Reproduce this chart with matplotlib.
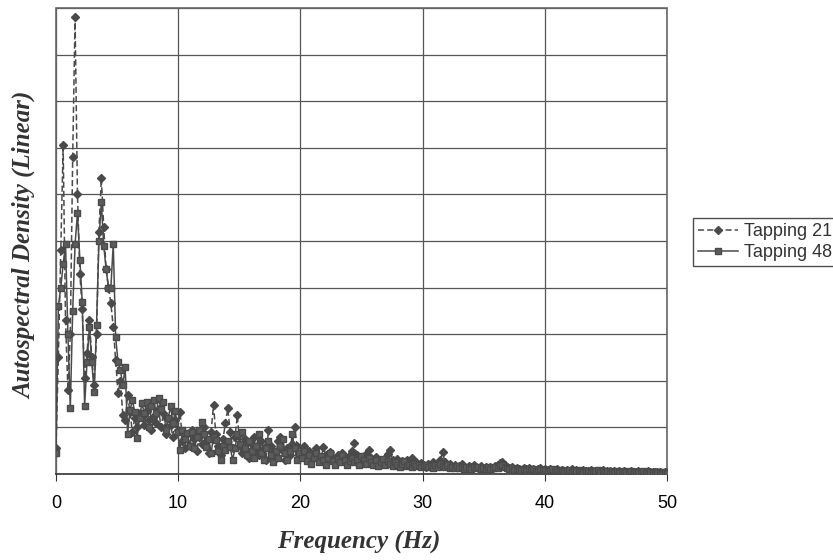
import matplotlib
matplotlib.use("Agg")
import matplotlib.pyplot as plt
import numpy as np

# spectrum bins: 512-pt FFT at 100 Hz -> 0.1953125 Hz spacing, 0..50 Hz
df = 100.0 / 512

tapping21 = [
    0.55, 2.5, 4.8, 7.05, 3.3, 1.8, 3.0, 6.8, 9.8, 6.0,          # 0
    4.3, 3.55, 2.05, 2.6, 3.3, 2.5, 1.9, 3.0, 5.2, 6.35,         # 10
    5.3, 4.4, 4.0, 3.66, 3.15, 2.44, 1.73, 2.0, 1.26, 1.16,      # 20
    1.7, 1.33, 0.9, 1.2, 1.0, 1.3, 1.23, 1.05, 1.35, 1.15,       # 30
    0.95, 1.25, 1.1, 1.4, 1.0, 1.3, 0.85, 1.2, 1.05, 0.8,        # 40
    1.15, 0.95, 1.33, 0.7, 0.55, 0.85, 0.6, 0.95, 0.75, 0.5,     # 50
    0.8, 0.65, 1.0, 0.7, 0.45, 0.9, 1.48, 0.85, 0.6, 0.4,        # 60
    0.75, 1.1, 1.41, 0.9, 0.55, 0.8, 1.26, 0.6, 0.45, 0.75,      # 70
    0.5, 0.35, 0.65, 0.8, 0.5, 0.4, 0.7, 0.55, 0.3, 0.94,        # 80
    0.6, 0.45, 0.35, 0.7, 0.8, 0.5, 0.3, 0.55, 0.4, 0.65,        # 90
    1.01, 0.6, 0.4, 0.45, 0.6, 0.38, 0.5, 0.3, 0.42, 0.55,       # 100
    0.35, 0.3, 0.58, 0.4, 0.28, 0.47, 0.35, 0.25, 0.4, 0.3,      # 110
    0.45, 0.35, 0.25, 0.4, 0.5, 0.66, 0.4, 0.3, 0.35, 0.25,      # 120
    0.42, 0.51, 0.35, 0.28, 0.36, 0.25, 0.3, 0.22, 0.35, 0.42,   # 130
    0.51, 0.3, 0.25, 0.33, 0.22, 0.28, 0.2, 0.3, 0.25, 0.34,     # 140
    0.2, 0.26, 0.18, 0.24, 0.2, 0.16, 0.22, 0.18, 0.25, 0.15,    # 150
    0.2, 0.3, 0.47, 0.25, 0.18, 0.22, 0.15, 0.2, 0.14, 0.18,     # 160
    0.22, 0.15, 0.12, 0.18, 0.14, 0.2, 0.16, 0.12, 0.17, 0.13,   # 170
    0.15, 0.11, 0.16, 0.13, 0.18, 0.2, 0.24, 0.26, 0.2, 0.15,    # 180
    0.12, 0.14, 0.1, 0.13, 0.11, 0.09, 0.12, 0.1, 0.13, 0.09,    # 190
    0.11, 0.08, 0.1, 0.12, 0.09, 0.1, 0.08, 0.11, 0.07, 0.09,    # 200
    0.1, 0.07, 0.08, 0.06, 0.09, 0.07, 0.1, 0.06, 0.08, 0.07,    # 210
    0.05, 0.08, 0.06, 0.07, 0.09, 0.06, 0.05, 0.07, 0.06, 0.08,  # 220
    0.05, 0.06, 0.07, 0.05, 0.06, 0.04, 0.06, 0.05, 0.07, 0.05,  # 230
    0.04, 0.06, 0.05, 0.04, 0.06, 0.05, 0.04, 0.05, 0.06, 0.04,  # 240
    0.05, 0.04, 0.05, 0.04, 0.03, 0.04, 0.03,                    # 250
]

tapping48 = [
    0.45, 3.6, 4.0, 4.5, 4.94, 3.0, 1.41, 3.5, 4.94, 5.6,        # 0
    4.6, 3.7, 1.46, 2.4, 3.15, 2.4, 1.76, 3.2, 5.0, 5.83,        # 10
    4.9, 4.4, 4.0, 4.0, 4.94, 2.94, 2.4, 2.23, 1.9, 2.29,        # 20
    0.85, 1.37, 1.58, 1.33, 0.77, 1.2, 1.52, 1.3, 1.55, 1.01,    # 30
    1.45, 1.58, 1.3, 1.63, 1.4, 1.55, 0.94, 1.2, 1.45, 1.1,      # 40
    1.35, 0.9, 0.51, 0.95, 0.75, 0.87, 0.6, 0.9, 0.55, 0.8,      # 50
    0.95, 1.12, 0.85, 0.58, 0.75, 0.45, 0.8, 0.73, 0.5, 0.3,     # 60
    0.6, 0.51, 0.7, 0.58, 0.3, 0.55, 0.85, 0.65, 0.9, 0.55,      # 70
    0.4, 0.7, 0.5, 0.35, 0.6, 0.85, 0.45, 0.3, 0.55, 0.7,        # 80
    0.4, 0.25, 0.5, 0.35, 0.6, 0.75, 0.45, 0.3, 0.5, 0.85,       # 90
    0.55, 0.3, 0.45, 0.35, 0.5, 0.28, 0.4, 0.22, 0.35, 0.45,     # 100
    0.25, 0.38, 0.3, 0.2, 0.35, 0.45, 0.28, 0.2, 0.33, 0.25,     # 110
    0.4, 0.3, 0.2, 0.28, 0.35, 0.25, 0.3, 0.2, 0.38, 0.3,        # 120
    0.22, 0.35, 0.25, 0.2, 0.3, 0.18, 0.25, 0.32, 0.2, 0.28,     # 130
    0.22, 0.18, 0.26, 0.2, 0.15, 0.22, 0.28, 0.18, 0.2, 0.15,    # 140
    0.22, 0.17, 0.2, 0.15, 0.18, 0.2, 0.14, 0.17, 0.13, 0.2,     # 150
    0.16, 0.22, 0.18, 0.14, 0.2, 0.12, 0.16, 0.13, 0.18, 0.12,   # 160
    0.15, 0.11, 0.16, 0.13, 0.1, 0.14, 0.12, 0.15, 0.1, 0.13,    # 170
    0.11, 0.14, 0.1, 0.12, 0.15, 0.13, 0.18, 0.2, 0.16, 0.12,    # 180
    0.1, 0.13, 0.09, 0.11, 0.1, 0.08, 0.11, 0.09, 0.1, 0.08,     # 190
    0.1, 0.07, 0.09, 0.1, 0.08, 0.09, 0.07, 0.08, 0.1, 0.06,     # 200
    0.08, 0.07, 0.09, 0.06, 0.07, 0.08, 0.05, 0.07, 0.06, 0.08,  # 210
    0.06, 0.05, 0.07, 0.06, 0.05, 0.07, 0.06, 0.08, 0.05, 0.06,  # 220
    0.05, 0.07, 0.04, 0.06, 0.05, 0.06, 0.04, 0.05, 0.06, 0.05,  # 230
    0.04, 0.06, 0.05, 0.04, 0.05, 0.04, 0.06, 0.05, 0.04, 0.05,  # 240
    0.04, 0.03, 0.05, 0.04, 0.03, 0.04, 0.03,                    # 250
]

freq21 = np.arange(len(tapping21)) * df
freq48 = np.arange(len(tapping48)) * df

xticks = [0, 10, 20, 30, 40, 50]

ink = "#4a4a4a"
tick_font = ["Liberation Sans Narrow", "Liberation Sans", "DejaVu Sans"]
label_kw = dict(family="Liberation Serif", style="italic", weight="bold",
                fontsize=18, color="#333333")

fig = plt.figure(figsize=(8.33, 5.6), dpi=100)
ax = fig.add_axes([0.0672, 0.1536, 0.7335, 0.8321])

ax.plot(freq21, tapping21, color=ink, ls=(0, (4, 2)), lw=1.1,
        marker="D", ms=4, mfc=ink, mec=ink, label="Tapping 21", zorder=3)
ax.plot(freq48, tapping48, color=ink, ls="-", lw=1.1,
        marker="s", ms=5, mfc="#5c5c5c", mec=ink, label="Tapping 48", zorder=3)

ax.set_xlim(0, 50)
ax.set_ylim(0, 10)
ax.set_xticks(xticks)
ax.set_xticklabels([str(t) for t in xticks], family=tick_font, fontsize=13)
ax.set_yticks(np.arange(0, 11, 1))
ax.set_yticklabels([])
ax.tick_params(axis="y", length=0)
ax.tick_params(axis="x", direction="out", length=5, color="#333333", pad=10)
ax.grid(True, color="#555555", lw=0.9)
ax.set_axisbelow(True)

for side in ["left", "top", "right"]:
    ax.spines[side].set_linestyle((0, (1, 1)))
    ax.spines[side].set_color("#666666")
    ax.spines[side].set_linewidth(1.2)
ax.spines["bottom"].set_color("#333333")
ax.spines["bottom"].set_linewidth(1.2)

ax.set_xlabel("Frequency (Hz)", **label_kw)
ax.xaxis.set_label_coords(0.495, -0.148)
ax.set_ylabel("Autospectral Density (Linear)", **label_kw)
ax.yaxis.set_label_coords(-0.052, 0.49)
ax.xaxis.label.set_va("center")
ax.yaxis.label.set_va("center")

leg = ax.legend(loc="upper left", bbox_to_anchor=(0.832, 0.611),
                bbox_transform=fig.transFigure, frameon=True, fancybox=False,
                prop={"family": tick_font, "size": 13}, handlelength=2.2,
                handletextpad=0.3, borderpad=0.3, labelspacing=0.2,
                borderaxespad=0)
leg.get_frame().set_edgecolor("#222222")
leg.get_frame().set_linewidth(1.0)
for t in leg.get_texts():
    t.set_color("#333333")

fig.savefig("out.png", dpi=100)
